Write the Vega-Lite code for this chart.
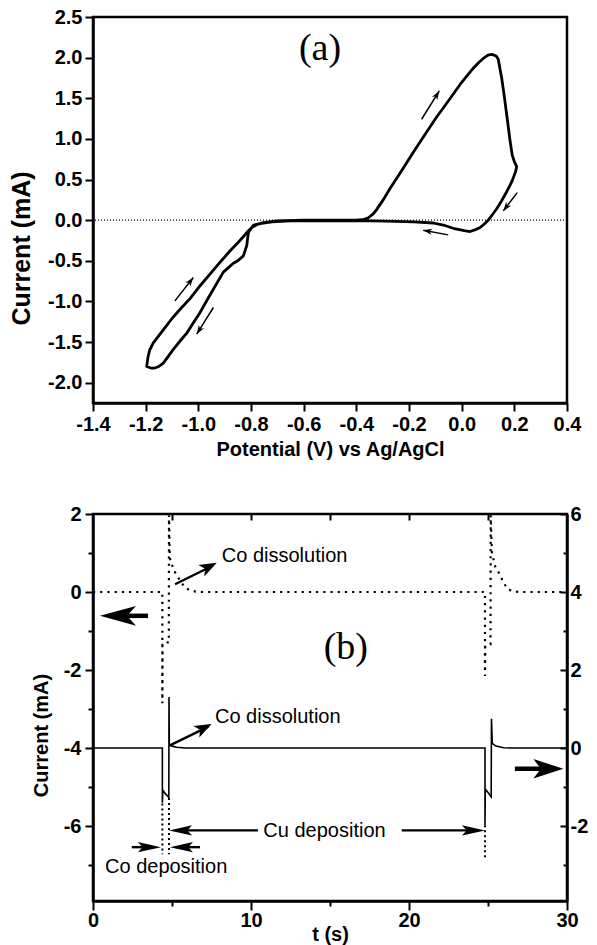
{
  "$schema": "https://vega.github.io/schema/vega-lite/v6.json",
  "background": "white",
  "padding": {"left": 8, "top": 5, "right": 2, "bottom": 2},
  "spacing": 41,
  "config": {
    "view": {"stroke": "black", "strokeWidth": 2.5},
    "axis": {
      "domainColor": "black", "domainWidth": 2.5, "tickColor": "black", "tickWidth": 2,
      "grid": false, "labelFont": "Liberation Sans", "labelFontWeight": "bold", "labelFontSize": 20,
      "labelColor": "black", "titleFont": "Liberation Sans", "titleFontWeight": "bold",
      "titleFontSize": 20, "titleColor": "black", "labelOverlap": false, "labelFlush": false, "labelBound": false
    },
    "text": {"font": "Liberation Sans"}
  },
  "datasets": {
    "cv": [
      {"i": 1, "V": -1.196, "I": -1.80}, {"i": 2, "V": -1.192, "I": -1.70}, {"i": 3, "V": -1.185, "I": -1.60},
      {"i": 4, "V": -1.171, "I": -1.51}, {"i": 5, "V": -1.150, "I": -1.42}, {"i": 6, "V": -1.133, "I": -1.35},
      {"i": 7, "V": -1.100, "I": -1.21}, {"i": 8, "V": -1.070, "I": -1.10}, {"i": 9, "V": -1.030, "I": -0.96},
      {"i": 10, "V": -0.994, "I": -0.81}, {"i": 11, "V": -0.955, "I": -0.66}, {"i": 12, "V": -0.918, "I": -0.52},
      {"i": 13, "V": -0.880, "I": -0.38}, {"i": 14, "V": -0.842, "I": -0.25}, {"i": 15, "V": -0.815, "I": -0.15},
      {"i": 16, "V": -0.797, "I": -0.09}, {"i": 17, "V": -0.775, "I": -0.05}, {"i": 18, "V": -0.753, "I": -0.03},
      {"i": 19, "V": -0.70, "I": -0.01}, {"i": 20, "V": -0.60, "I": 0.0}, {"i": 21, "V": -0.50, "I": 0.0},
      {"i": 22, "V": -0.40, "I": 0.0}, {"i": 23, "V": -0.37, "I": 0.01}, {"i": 24, "V": -0.354, "I": 0.03},
      {"i": 25, "V": -0.335, "I": 0.08}, {"i": 26, "V": -0.323, "I": 0.13}, {"i": 27, "V": -0.300, "I": 0.24},
      {"i": 28, "V": -0.272, "I": 0.39}, {"i": 29, "V": -0.230, "I": 0.60}, {"i": 30, "V": -0.183, "I": 0.84},
      {"i": 31, "V": -0.140, "I": 1.05}, {"i": 32, "V": -0.095, "I": 1.27}, {"i": 33, "V": -0.050, "I": 1.47},
      {"i": 34, "V": -0.006, "I": 1.67}, {"i": 35, "V": 0.044, "I": 1.87}, {"i": 36, "V": 0.065, "I": 1.94},
      {"i": 37, "V": 0.082, "I": 1.99}, {"i": 38, "V": 0.100, "I": 2.03}, {"i": 39, "V": 0.115, "I": 2.04},
      {"i": 40, "V": 0.131, "I": 2.02}, {"i": 41, "V": 0.139, "I": 1.98}, {"i": 42, "V": 0.145, "I": 1.87},
      {"i": 43, "V": 0.152, "I": 1.75}, {"i": 44, "V": 0.162, "I": 1.52}, {"i": 45, "V": 0.171, "I": 1.30},
      {"i": 46, "V": 0.184, "I": 0.97}, {"i": 47, "V": 0.192, "I": 0.80}, {"i": 48, "V": 0.200, "I": 0.72},
      {"i": 49, "V": 0.209, "I": 0.66}, {"i": 50, "V": 0.205, "I": 0.60}, {"i": 51, "V": 0.190, "I": 0.47},
      {"i": 52, "V": 0.171, "I": 0.35}, {"i": 53, "V": 0.150, "I": 0.23}, {"i": 54, "V": 0.133, "I": 0.14},
      {"i": 55, "V": 0.115, "I": 0.06}, {"i": 56, "V": 0.101, "I": 0.0}, {"i": 57, "V": 0.085, "I": -0.05},
      {"i": 58, "V": 0.070, "I": -0.09}, {"i": 59, "V": 0.050, "I": -0.12}, {"i": 60, "V": 0.032, "I": -0.14},
      {"i": 61, "V": 0.010, "I": -0.13}, {"i": 62, "V": -0.032, "I": -0.10}, {"i": 63, "V": -0.070, "I": -0.06},
      {"i": 64, "V": -0.108, "I": -0.035}, {"i": 65, "V": -0.183, "I": -0.02}, {"i": 66, "V": -0.25, "I": -0.015},
      {"i": 67, "V": -0.34, "I": -0.01}, {"i": 68, "V": -0.50, "I": -0.01}, {"i": 69, "V": -0.65, "I": -0.01},
      {"i": 70, "V": -0.72, "I": -0.02}, {"i": 71, "V": -0.76, "I": -0.04}, {"i": 72, "V": -0.79, "I": -0.06},
      {"i": 73, "V": -0.810, "I": -0.15}, {"i": 74, "V": -0.816, "I": -0.31}, {"i": 75, "V": -0.829, "I": -0.44},
      {"i": 76, "V": -0.850, "I": -0.50}, {"i": 77, "V": -0.867, "I": -0.53}, {"i": 78, "V": -0.905, "I": -0.64},
      {"i": 79, "V": -0.943, "I": -0.85}, {"i": 80, "V": -0.970, "I": -1.00}, {"i": 81, "V": -0.994, "I": -1.14},
      {"i": 82, "V": -1.020, "I": -1.27}, {"i": 83, "V": -1.044, "I": -1.39}, {"i": 84, "V": -1.070, "I": -1.49},
      {"i": 85, "V": -1.095, "I": -1.59}, {"i": 86, "V": -1.115, "I": -1.68}, {"i": 87, "V": -1.133, "I": -1.76},
      {"i": 88, "V": -1.150, "I": -1.80}, {"i": 89, "V": -1.165, "I": -1.82}, {"i": 90, "V": -1.180, "I": -1.82},
      {"i": 91, "V": -1.196, "I": -1.80}
    ],
    "arrowsA": [
      {"id": "a1", "V": -0.152, "I": 1.242, "V2": -0.085, "I2": 1.590},
      {"id": "a2", "V": 0.211, "I": 0.339, "V2": 0.158, "I2": 0.114},
      {"id": "a3", "V": -0.051, "I": -0.181, "V2": -0.146, "I2": -0.123},
      {"id": "a4", "V": -1.089, "I": -0.993, "V2": -1.019, "I2": -0.706},
      {"id": "a5", "V": -0.943, "I": -1.075, "V2": -1.006, "I2": -1.402}
    ],
    "dotted": [
      {"i": 1, "t": 0, "I": 0}, {"i": 2, "t": 4.39, "I": 0}, {"i": 3, "t": 4.39, "I": -2.85},
      {"i": 4, "t": 4.40, "I": -1.35}, {"i": 5, "t": 4.55, "I": -1.27}, {"i": 6, "t": 4.80, "I": -1.30},
      {"i": 7, "t": 4.81, "I": 1.97}, {"i": 8, "t": 4.86, "I": 0.90}, {"i": 9, "t": 4.95, "I": 0.70},
      {"i": 10, "t": 5.05, "I": 0.66}, {"i": 11, "t": 5.2, "I": 0.50}, {"i": 12, "t": 5.5, "I": 0.30},
      {"i": 13, "t": 5.8, "I": 0.12}, {"i": 14, "t": 6.1, "I": 0.05}, {"i": 15, "t": 6.5, "I": 0.01},
      {"i": 16, "t": 7.0, "I": 0}, {"i": 17, "t": 24.81, "I": 0}, {"i": 18, "t": 24.81, "I": -2.15},
      {"i": 19, "t": 24.83, "I": -1.40}, {"i": 20, "t": 25.0, "I": -1.33}, {"i": 21, "t": 25.16, "I": -1.34},
      {"i": 22, "t": 25.17, "I": 1.97}, {"i": 23, "t": 25.25, "I": 1.0}, {"i": 24, "t": 25.45, "I": 0.66},
      {"i": 25, "t": 25.75, "I": 0.45}, {"i": 26, "t": 26.0, "I": 0.22}, {"i": 27, "t": 26.3, "I": 0.06},
      {"i": 28, "t": 26.7, "I": 0.01}, {"i": 29, "t": 27.2, "I": 0}, {"i": 30, "t": 30, "I": 0}
    ],
    "solid": [
      {"i": 1, "t": 0, "R": 0}, {"i": 2, "t": 4.39, "R": 0}, {"i": 3, "t": 4.39, "R": -1.40},
      {"i": 4, "t": 4.42, "R": -1.08}, {"i": 5, "t": 4.60, "R": -1.18}, {"i": 6, "t": 4.80, "R": -1.26},
      {"i": 7, "t": 4.81, "R": 1.31}, {"i": 8, "t": 4.83, "R": 0.08}, {"i": 9, "t": 5.0, "R": 0.05},
      {"i": 10, "t": 5.3, "R": 0.02}, {"i": 11, "t": 5.8, "R": 0}, {"i": 12, "t": 24.81, "R": 0},
      {"i": 13, "t": 24.81, "R": -1.97}, {"i": 14, "t": 24.83, "R": -1.05}, {"i": 15, "t": 25.0, "R": -1.14},
      {"i": 16, "t": 25.20, "R": -1.25}, {"i": 17, "t": 25.22, "R": 0.75}, {"i": 18, "t": 25.27, "R": 0.12},
      {"i": 19, "t": 25.5, "R": 0.05}, {"i": 20, "t": 26.0, "R": 0.01}, {"i": 21, "t": 26.5, "R": 0},
      {"i": 22, "t": 30, "R": 0}
    ],
    "guides": [
      {"t": 4.39, "I": -5.42, "I2": -6.72},
      {"t": 4.81, "I": -5.28, "I2": -6.72},
      {"t": 24.81, "I": -5.98, "I2": -6.85}
    ],
    "arrowsB": [
      {"id": "A", "kind": "big", "t": 3.48, "I": -0.61, "tn": 1.5, "In": -0.61, "t2": 0.44, "I2": -0.61},
      {"id": "B", "kind": "big", "t": 26.7, "I": -4.53, "tn": 28.5, "In": -4.53, "t2": 29.77, "I2": -4.53},
      {"id": "C", "kind": "small", "t": 5.19, "I": 0.20, "tn": 7.6, "In": 0.68, "t2": 7.83, "I2": 0.75},
      {"id": "D", "kind": "small", "t": 4.87, "I": -3.93, "tn": 7.3, "In": -3.45, "t2": 7.51, "I2": -3.38},
      {"id": "E", "kind": "small", "t": 10.44, "I": -6.11, "tn": 5.3, "In": -6.11, "t2": 4.81, "I2": -6.11},
      {"id": "F", "kind": "small", "t": 19.54, "I": -6.11, "tn": 24.4, "In": -6.11, "t2": 24.81, "I2": -6.11},
      {"id": "G", "kind": "small", "t": 2.45, "I": -6.54, "tn": 3.9, "In": -6.54, "t2": 4.30, "I2": -6.54},
      {"id": "H", "kind": "small", "t": 6.77, "I": -6.54, "tn": 5.3, "In": -6.54, "t2": 4.87, "I2": -6.54}
    ],
    "notesB": [
      {"t": 8.15, "I": 0.93, "label": "Co dissolution"},
      {"t": 7.72, "I": -3.2, "label": "Co dissolution"},
      {"t": 10.78, "I": -6.13, "label": "Cu deposition"},
      {"t": 0.76, "I": -7.05, "label": "Co deposition"}
    ]
  },
  "vconcat": [
    {
      "width": 474,
      "height": 386,
      "layer": [
        {
          "data": {"values": [{"I": 0}]},
          "mark": {"type": "rule", "color": "black", "strokeWidth": 1.2, "strokeDash": [1, 2]},
          "encoding": {"y": {"field": "I", "type": "quantitative"}}
        },
        {
          "data": {"name": "cv"},
          "mark": {"type": "line", "color": "black", "strokeWidth": 2.8, "strokeJoin": "round", "strokeCap": "round"},
          "encoding": {
            "x": {
              "field": "V", "type": "quantitative",
              "scale": {"domain": [-1.4, 0.4], "nice": false, "zero": false},
              "axis": {
                "title": "Potential (V) vs Ag/AgCl",
                "values": [-1.4, -1.3, -1.2, -1.1, -1.0, -0.9, -0.8, -0.7, -0.6, -0.5, -0.4, -0.3, -0.2, -0.1, 0, 0.1, 0.2, 0.3, 0.4],
                "labelExpr": "abs(round(datum.value*10)) % 2 == 1 ? '' : replace(format(datum.value, '.1f'), '\u2212', '-')",
                "tickSize": {"condition": {"test": "abs(round(datum.value*10)) % 2 == 1", "value": 5}, "value": 8},
                "labelPadding": 3.5,
                "titlePadding": 5
              }
            },
            "y": {
              "field": "I", "type": "quantitative",
              "scale": {"domain": [-2.25, 2.5], "nice": false, "zero": false},
              "axis": {
                "title": "Current (mA)",
                "titleFontSize": 25,
                "titleY": 231,
                "titlePadding": 13,
                "values": [-2.0, -1.75, -1.5, -1.25, -1.0, -0.75, -0.5, -0.25, 0, 0.25, 0.5, 0.75, 1.0, 1.25, 1.5, 1.75, 2.0, 2.25, 2.5],
                "labelExpr": "abs(round(datum.value*4)) % 2 == 1 ? '' : replace(format(datum.value, '.1f'), '\u2212', '-')",
                "tickSize": {"condition": {"test": "abs(round(datum.value*4)) % 2 == 1", "value": 5}, "value": 8},
                "labelPadding": 3
              }
            },
            "order": {"field": "i", "type": "quantitative"}
          }
        },
        {
          "data": {"name": "arrowsA"},
          "mark": {"type": "rule", "color": "black", "strokeWidth": 1.5},
          "encoding": {
            "x": {"field": "V", "type": "quantitative"},
            "y": {"field": "I", "type": "quantitative"},
            "x2": {"field": "V2"},
            "y2": {"field": "I2"}
          }
        },
        {
          "data": {"name": "arrowsA"},
          "transform": [{"filter": "datum.id == 'a1'"}],
          "mark": {"type": "point", "filled": true, "color": "black", "opacity": 1, "shape": "M0,0L-2,-0.7L-1.4,0L-2,0.7Z", "size": 81, "angle": 302},
          "encoding": {"x": {"field": "V2", "type": "quantitative"}, "y": {"field": "I2", "type": "quantitative"}}
        },
        {
          "data": {"name": "arrowsA"},
          "transform": [{"filter": "datum.id == 'a2'"}],
          "mark": {"type": "point", "filled": true, "color": "black", "opacity": 1, "shape": "M0,0L-2,-0.7L-1.4,0L-2,0.7Z", "size": 81, "angle": 127.4},
          "encoding": {"x": {"field": "V2", "type": "quantitative"}, "y": {"field": "I2", "type": "quantitative"}}
        },
        {
          "data": {"name": "arrowsA"},
          "transform": [{"filter": "datum.id == 'a3'"}],
          "mark": {"type": "point", "filled": true, "color": "black", "opacity": 1, "shape": "M0,0L-2,-0.7L-1.4,0L-2,0.7Z", "size": 81, "angle": 190.6},
          "encoding": {"x": {"field": "V2", "type": "quantitative"}, "y": {"field": "I2", "type": "quantitative"}}
        },
        {
          "data": {"name": "arrowsA"},
          "transform": [{"filter": "datum.id == 'a4'"}],
          "mark": {"type": "point", "filled": true, "color": "black", "opacity": 1, "shape": "M0,0L-2,-0.7L-1.4,0L-2,0.7Z", "size": 81, "angle": 308.2},
          "encoding": {"x": {"field": "V2", "type": "quantitative"}, "y": {"field": "I2", "type": "quantitative"}}
        },
        {
          "data": {"name": "arrowsA"},
          "transform": [{"filter": "datum.id == 'a5'"}],
          "mark": {"type": "point", "filled": true, "color": "black", "opacity": 1, "shape": "M0,0L-2,-0.7L-1.4,0L-2,0.7Z", "size": 81, "angle": 122},
          "encoding": {"x": {"field": "V2", "type": "quantitative"}, "y": {"field": "I2", "type": "quantitative"}}
        },
        {
          "data": {"values": [{"V": -0.538, "I": 2.107, "label": "(a)"}]},
          "mark": {"type": "text", "font": "Liberation Serif", "fontSize": 38, "align": "center", "baseline": "middle", "color": "black"},
          "encoding": {
            "x": {"field": "V", "type": "quantitative"},
            "y": {"field": "I", "type": "quantitative"},
            "text": {"field": "label"}
          }
        }
      ]
    },
    {
      "width": 474,
      "height": 387,
      "layer": [
        {
          "layer": [
            {
              "data": {"name": "dotted"},
              "mark": {"type": "line", "color": "black", "strokeWidth": 2.2, "strokeDash": [2.2, 5]},
              "encoding": {
                "x": {
                  "field": "t", "type": "quantitative",
                  "scale": {"domain": [0, 30], "nice": false, "zero": false},
                  "axis": {
                    "orient": "bottom",
                    "title": "t (s)",
                    "values": [0, 5, 10, 15, 20, 25, 30],
                    "labelExpr": "datum.value % 10 == 0 ? datum.label : ''",
                    "tickSize": {"condition": {"test": "datum.value % 10 != 0", "value": 5}, "value": 9},
                    "labelPadding": 0,
                    "titlePadding": -6
                  }
                },
                "y": {
                  "field": "I", "type": "quantitative",
                  "scale": {"domain": [-7.92, 2], "nice": false, "zero": false},
                  "axis": {
                    "orient": "left",
                    "title": "Current (mA)",
                    "titleY": 221,
                    "titlePadding": 12,
                    "values": [-7, -6, -5, -4, -3, -2, -1, 0, 1, 2],
                    "labelExpr": "abs(datum.value) % 2 == 1 ? '' : replace(format(datum.value, 'd'), '\u2212', '-')",
                    "tickSize": {"condition": {"test": "abs(datum.value) % 2 == 1", "value": 5}, "value": 8},
                    "labelPadding": 4
                  }
                },
                "order": {"field": "i", "type": "quantitative"}
              }
            },
            {
              "data": {"name": "guides"},
              "mark": {"type": "rule", "color": "black", "strokeWidth": 2, "strokeDash": [2, 3]},
              "encoding": {
                "x": {
                  "field": "t", "type": "quantitative",
                  "axis": {"orient": "top", "title": null, "values": [5, 10, 15, 20, 25], "labels": false, "domain": false, "tickSize": -6}
                },
                "y": {"field": "I", "type": "quantitative"},
                "y2": {"field": "I2"}
              }
            },
            {
              "data": {"name": "arrowsB"},
              "transform": [{"filter": "datum.kind == 'big'"}],
              "mark": {"type": "rule", "color": "black", "strokeCap": "butt", "strokeWidth": 4.5},
              "encoding": {
                "x": {"field": "t", "type": "quantitative", "axis": null},
                "y": {"field": "I", "type": "quantitative"},
                "x2": {"field": "tn"},
                "y2": {"field": "In"}
              }
            },
            {
              "data": {"name": "arrowsB"},
              "transform": [{"filter": "datum.kind == 'small'"}],
              "mark": {"type": "rule", "color": "black", "strokeCap": "butt", "strokeWidth": 2.4},
              "encoding": {
                "x": {"field": "t", "type": "quantitative", "axis": null},
                "y": {"field": "I", "type": "quantitative"},
                "x2": {"field": "tn"},
                "y2": {"field": "In"}
              }
            },
            {
              "data": {"name": "arrowsB"},
              "transform": [{"filter": "datum.id == 'A'"}],
              "mark": {"type": "point", "filled": true, "color": "black", "opacity": 1, "shape": "M0,0L-2,-0.55L-1.5,0L-2,0.55Z", "size": 1300, "angle": 180},
              "encoding": {"x": {"field": "t2", "type": "quantitative", "axis": null}, "y": {"field": "I2", "type": "quantitative"}}
            },
            {
              "data": {"name": "arrowsB"},
              "transform": [{"filter": "datum.id == 'B'"}],
              "mark": {"type": "point", "filled": true, "color": "black", "opacity": 1, "shape": "M0,0L-2,-0.65L-1.5,0L-2,0.65Z", "size": 900, "angle": 0},
              "encoding": {"x": {"field": "t2", "type": "quantitative", "axis": null}, "y": {"field": "I2", "type": "quantitative"}}
            },
            {
              "data": {"name": "arrowsB"},
              "transform": [{"filter": "datum.id == 'C' || datum.id == 'D'"}],
              "mark": {"type": "point", "filled": true, "color": "black", "opacity": 1, "shape": "M0,0L-2,-0.75L-1.5,0L-2,0.75Z", "size": 300, "angle": 332.7},
              "encoding": {"x": {"field": "t2", "type": "quantitative", "axis": null}, "y": {"field": "I2", "type": "quantitative"}}
            },
            {
              "data": {"name": "arrowsB"},
              "transform": [{"filter": "datum.id == 'E' || datum.id == 'H'"}],
              "mark": {"type": "point", "filled": true, "color": "black", "opacity": 1, "shape": "M0,0L-2,-0.45L-1.6,0L-2,0.45Z", "size": 529, "angle": 180},
              "encoding": {"x": {"field": "t2", "type": "quantitative", "axis": null}, "y": {"field": "I2", "type": "quantitative"}}
            },
            {
              "data": {"name": "arrowsB"},
              "transform": [{"filter": "datum.id == 'F' || datum.id == 'G'"}],
              "mark": {"type": "point", "filled": true, "color": "black", "opacity": 1, "shape": "M0,0L-2,-0.45L-1.6,0L-2,0.45Z", "size": 529, "angle": 0},
              "encoding": {"x": {"field": "t2", "type": "quantitative", "axis": null}, "y": {"field": "I2", "type": "quantitative"}}
            },
            {
              "data": {"name": "notesB"},
              "mark": {"type": "text", "font": "Liberation Sans", "fontSize": 20, "align": "left", "baseline": "middle", "color": "black"},
              "encoding": {
                "x": {"field": "t", "type": "quantitative", "axis": null},
                "y": {"field": "I", "type": "quantitative"},
                "text": {"field": "label"}
              }
            },
            {
              "data": {"values": [{"t": 16.0, "I": -1.43, "label": "(b)"}]},
              "mark": {"type": "text", "font": "Liberation Serif", "fontSize": 38, "align": "center", "baseline": "middle", "color": "black"},
              "encoding": {
                "x": {"field": "t", "type": "quantitative", "axis": null},
                "y": {"field": "I", "type": "quantitative"},
                "text": {"field": "label"}
              }
            }
          ]
        },
        {
          "layer": [
            {
              "data": {"name": "solid"},
              "mark": {"type": "line", "color": "black", "strokeWidth": 1.6},
              "encoding": {
                "x": {"field": "t", "type": "quantitative", "axis": null},
                "y": {
                  "field": "R", "type": "quantitative",
                  "scale": {"domain": [-3.92, 6], "nice": false, "zero": false},
                  "axis": {
                    "orient": "right",
                    "title": null,
                    "values": [-3, -2, -1, 0, 1, 2, 3, 4, 5, 6],
                    "labelExpr": "abs(datum.value) % 2 == 1 ? '' : replace(format(datum.value, 'd'), '\u2212', '-')",
                    "tickSize": {"condition": {"test": "abs(datum.value) % 2 == 1", "value": -4}, "value": -7},
                    "labelPadding": 10,
                    "labelAlign": "left"
                  }
                },
                "order": {"field": "i", "type": "quantitative"}
              }
            }
          ]
        }
      ],
      "resolve": {"scale": {"y": "independent"}}
    }
  ]
}
